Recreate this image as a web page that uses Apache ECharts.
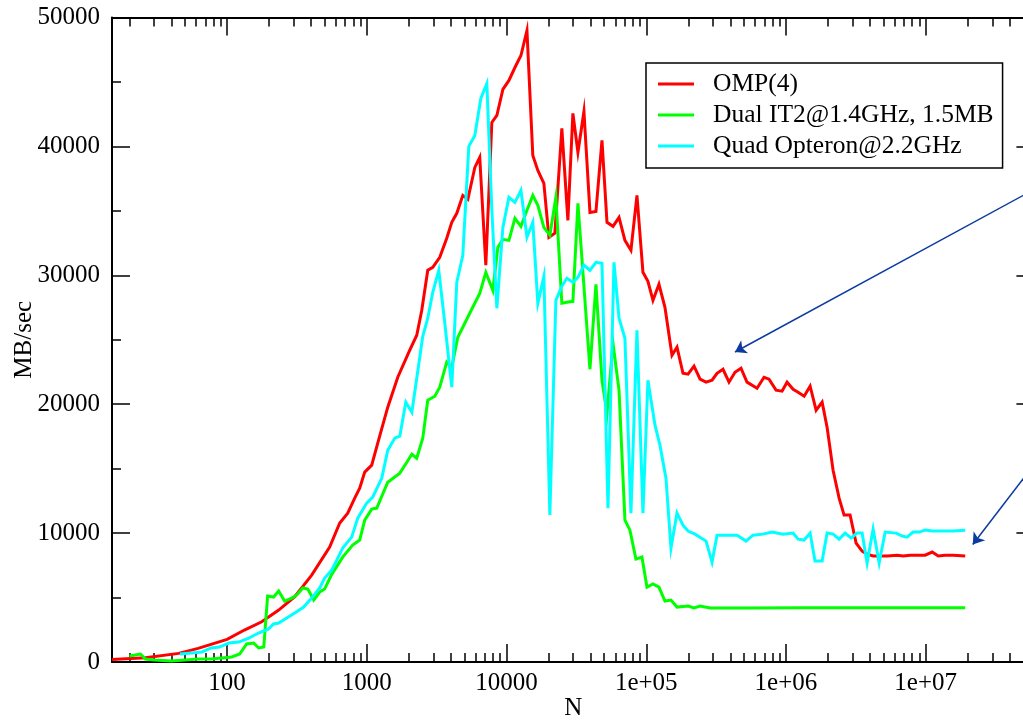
<!DOCTYPE html>
<html>
<head>
<meta charset="utf-8">
<script src="https://cdn.jsdelivr.net/npm/echarts@6/dist/echarts.min.js"></script>
<style>
  html, body { margin: 0; padding: 0; background: #ffffff; }
  #chart { width: 1023px; height: 720px; }
</style>
</head>
<body>
<div id="chart"></div>
<script>
// Memory bandwidth (MB/sec) against problem size N, three machines.
const seriesNames = ['OMP(4)', 'Dual IT2@1.4GHz, 1.5MB', 'Quad Opteron@2.2GHz'];
const seriesColors = ['#ff0000', '#00ff00', '#00ffff'];

// [N, MB/sec]
const ompData = [
  [15,200],[26,330],[45,670],[62,1060],[100,1760],[133,2480],[177,3120],[234,4030],[305,5060],[403,6740],
  [542,8910],[640,10780],[730,11550],[819,12710],[889,13490],[966,14730],[1084,15270],[1197,16980],[1412,19770],[1665,22090],
  [2029,24190],[2277,25350],[2473,27290],[2730,30390],[2965,30620],[3326,31400],[3733,32870],[4055,34110],[4405,34810],[4864,36200],
  [5284,35890],[5929,38370],[6430,39150],[7106,30780],[7850,41860],[8525,42400],[9415,44420],[10400,45120],[11480,46120],[12680,47050],
  [14000,48990],[15420,39300],[16750,38140],[18500,37130],[20100,32950],[22180,33260],[24880,41400],[27480,34260],[29850,42560],[32430,39530],
  [35810,42710],[39540,34880],[43650,34960],[48200,40470],[52360,34110],[57810,33800],[63830,34500],[70370,32710],[77700,31940],[85800,36200],
  [94700,30230],[102800,29530],[111700,28060],[123300,29300],[136100,27520],[152800,23800],[166000,24420],[183200,22400],[199000,22330],[219800,22950],
  [242700,21940],[267900,21710],[295800,21860],[320900,22400],[354300,22710],[391100,21710],[431700,22480],[476600,22790],[526100,21710],[620700,21240],
  [696500,22090],[756600,21940],[849000,21090],[937600,21010],[1018000,21710],[1125000,21160],[1221000,20930],[1349000,20620],[1489000,21400],[1644000,19530],
  [1815000,20160],[1969000,18220],[2174000,14880],[2401000,12710],[2606000,11400],[2877000,11400],[3177000,9220],[3508000,8600],[3808000,8370],[4205000,8220],
  [4721000,8220],[5297000,8220],[6246000,8290],[6896000,8220],[7738000,8290],[9913000,8290],[11130000,8530],[12290000,8220],[13800000,8290],[15740000,8290],
  [19190000,8220]
];

const it2Data = [
  [20,470],[24,620],[26,230],[30,150],[40,80],[50,150],[62,230],[77,230],[91,310],[108,390],
  [123,620],[138,1400],[155,1470],[168,1090],[183,1160],[195,5120],[215,5040],[234,5500],[258,4730],[290,4960],
  [315,5190],[348,5740],[378,5660],[417,4810],[460,5430],[499,5660],[561,6800],[672,8140],[792,9070],[889,9460],
  [966,11010],[1084,11860],[1178,11940],[1412,13950],[1722,14650],[1933,15500],[2100,16120],[2277,15810],[2514,17360],[2730,20310],
  [3066,20620],[3326,21320],[3733,23260],[4055,22870],[4480,25190],[5026,26280],[5728,27520],[6430,28600],[7106,30230],[7979,28840],
  [8666,32170],[9415,32790],[10400,32710],[11480,34420],[12680,33800],[14000,35040],[15420,36200],[16750,35430],[18500,33720],[20420,33100],
  [22550,36050],[24880,27830],[27040,27910],[29850,27980],[32430,35580],[39540,22710],[43650,29300],[48200,21860],[52360,19300],[57810,24730],
  [63830,21090],[70370,11010],[76420,10230],[84340,7980],[93130,8140],[101200,5810],[111700,6050],[123300,5810],[136100,4730],[150300,4810],
  [166000,4260],[199000,4340],[219800,4190],[242700,4340],[286400,4190],[553400,4180],[1262000,4200],[2877000,4200],[6560000,4210],[19190000,4200]
];

const opteronData = [
  [46,620],[56,700],[66,780],[77,1090],[88,1160],[103,1470],[121,1550],[143,1860],[168,2250],[198,2560],
  [215,2950],[234,3020],[267,3410],[305,3800],[353,4260],[403,4960],[460,5740],[499,6510],[561,7130],[672,8840],
  [779,9690],[861,11160],[998,12330],[1102,12790],[1279,14260],[1412,16430],[1585,17360],[1722,17520],[1901,20160],[2100,19380],
  [2277,22020],[2514,25270],[2730,26670],[2965,28680],[3273,30390],[3615,26280],[4055,21320],[4405,29460],[4864,31550],[5370,40000],
  [5929,40850],[6546,43720],[7227,44880],[7850,35040],[8525,27440],[9415,33720],[10400,36050],[11480,35660],[12680,36590],[14000,32950],
  [15420,34110],[16750,27830],[18500,29920],[20420,11400],[22550,28060],[24880,29150],[27040,29770],[29850,29460],[32430,29840],[35810,30780],
  [39540,30390],[43650,31010],[48200,30930],[53220,11940],[58750,31010],[63830,26670],[70370,25120],[77700,11550],[85800,25740],[94700,11550],
  [102800,21860],[115500,18370],[125300,16820],[138400,14260],[150300,8840],[166000,11550],[183200,10620],[199000,10160],[223400,9920],[267900,9380],
  [295800,7750],[320900,9840],[446700,9840],[517600,9380],[580800,9840],[685500,9920],[794300,10080],[952800,9920],[1125000,10000],[1221000,9530],
  [1349000,9460],[1489000,10000],[1614000,7830],[1815000,7830],[1969000,10000],[2174000,9920],[2401000,9530],[2649000,10000],[2924000,9610],[3228000,10000],
  [3508000,10000],[3808000,7670],[4205000,10310],[4645000,7670],[5129000,10080],[6152000,10000],[6792000,9770],[7362000,9690],[8128000,10080],[8974000,10080],
  [9913000,10230],[11130000,10160],[12710000,10160],[15740000,10160],[19190000,10230]
];

// Axis ticks and labels
const xMajorTicks = [100, 1000, 10000, 100000, 1000000, 10000000];
const xTickLabels = ['100', '1000', '10000', '1e+05', '1e+06', '1e+07'];
const yTickLabels = ['0', '10000', '20000', '30000', '40000', '50000'];

// Annotation arrows: [start, end] in data units
const arrowUpper = [[60000000, 36670], [431700, 24050]];
const arrowLower = [[60000000, 15350], [21730000, 9120]];

const X_MIN = 15, X_MAX = 60000000;
const xMinorTicks = [];
for (let d = 10; d < X_MAX; d *= 10) {
  for (let m = 2; m <= 9; m++) {
    const v = m * d;
    if (v > X_MIN && v <= X_MAX) xMinorTicks.push(v);
  }
}

const FONT = 'Liberation Serif';
const black = '#000000';

function xAxisDef(pos, ticks, len, showLine, labels) {
  return {
    type: 'log', logBase: 10, min: X_MIN, max: X_MAX, position: pos,
    gridIndex: 0,
    axisLine: { show: showLine, lineStyle: { color: black, width: 2 } },
    axisTick: { show: true, inside: true, length: len, customValues: ticks,
                lineStyle: { color: black, width: 1.5 } },
    minorTick: { show: false },
    splitLine: { show: false },
    axisLabel: labels ? {
      show: true, customValues: ticks, margin: 9,
      color: black, fontFamily: FONT, fontSize: 25,
      formatter: function (v) {
        const i = Math.round(Math.log10(v)) - 2;
        return xTickLabels[i];
      }
    } : { show: false }
  };
}

const chart = echarts.init(document.getElementById('chart'), null, { renderer: 'canvas' });

chart.setOption({
  animation: false,
  backgroundColor: '#ffffff',
  grid: { left: 112, right: -11.4, top: 17.5, bottom: 58, containLabel: false, outerBoundsMode: 'none' },
  legend: {
    orient: 'vertical',
    left: 646, top: 63,
    padding: [8, 9, 9, 12],
    itemGap: 5,
    itemWidth: 36, itemHeight: 3,
    icon: 'rect',
    borderColor: black, borderWidth: 1.5,
    backgroundColor: '#ffffff',
    selectedMode: false,
    textStyle: { fontFamily: FONT, fontSize: 25.5, color: black, lineHeight: 24, padding: [0, 0, 0, 14] },
    data: seriesNames
  },
  xAxis: [
    Object.assign(xAxisDef('bottom', xMajorTicks, 18, true, true), {
      name: 'N', nameLocation: 'middle', nameGap: 34, nameMoveOverlap: false,
      nameTextStyle: { fontFamily: FONT, fontSize: 25, color: black }
    }),
    xAxisDef('bottom', xMinorTicks, 9, false, false),
    xAxisDef('top', xMajorTicks, 18, true, false),
    xAxisDef('top', xMinorTicks, 9, false, false)
  ],
  yAxis: [
    {
      type: 'value', position: 'left', min: 0, max: 50000, interval: 10000,
      name: 'MB/sec', nameLocation: 'middle', nameGap: 75, nameRotate: 90, nameMoveOverlap: false,
      nameTextStyle: { fontFamily: FONT, fontSize: 25, color: black },
      axisLine: { show: true, lineStyle: { color: black, width: 2 } },
      axisTick: { show: true, inside: true, length: 18, lineStyle: { color: black, width: 1.5 } },
      minorTick: { show: true, splitNumber: 2, length: 9, lineStyle: { color: black, width: 1.5 } },
      splitLine: { show: false },
      minorSplitLine: { show: false },
      axisLabel: { show: true, margin: 12, color: black, fontFamily: FONT, fontSize: 25,
                   formatter: function (v) { return yTickLabels[Math.round(v / 10000)]; } }
    },
    {
      type: 'value', position: 'right', min: 0, max: 50000, interval: 10000,
      axisLine: { show: true, lineStyle: { color: black, width: 2 } },
      axisTick: { show: true, inside: true, length: 18, lineStyle: { color: black, width: 1.5 } },
      minorTick: { show: true, splitNumber: 2, length: 9, lineStyle: { color: black, width: 1.5 } },
      splitLine: { show: false },
      axisLabel: { show: false }
    }
  ],
  series: [
    {
      name: seriesNames[0], type: 'line', data: ompData,
      xAxisIndex: 0, yAxisIndex: 0,
      showSymbol: false, symbol: 'none',
      lineStyle: { color: seriesColors[0], width: 3, join: 'miter' },
      itemStyle: { color: seriesColors[0] },
      markLine: {
        silent: true, animation: false,
        symbol: ['none', 'arrow'], symbolSize: 11,
        label: { show: false },
        lineStyle: { color: '#0b3aa0', width: 1.5, type: 'solid' },
        emphasis: { disabled: true },
        data: [
          [{ coord: arrowUpper[0] }, { coord: arrowUpper[1] }],
          [{ coord: arrowLower[0] }, { coord: arrowLower[1] }]
        ]
      }
    },
    {
      name: seriesNames[1], type: 'line', data: it2Data,
      xAxisIndex: 0, yAxisIndex: 0,
      showSymbol: false, symbol: 'none',
      lineStyle: { color: seriesColors[1], width: 3, join: 'miter' },
      itemStyle: { color: seriesColors[1] }
    },
    {
      name: seriesNames[2], type: 'line', data: opteronData,
      xAxisIndex: 0, yAxisIndex: 0,
      showSymbol: false, symbol: 'none',
      lineStyle: { color: seriesColors[2], width: 3, join: 'miter' },
      itemStyle: { color: seriesColors[2] }
    }
  ]
});
</script>
</body>
</html>
